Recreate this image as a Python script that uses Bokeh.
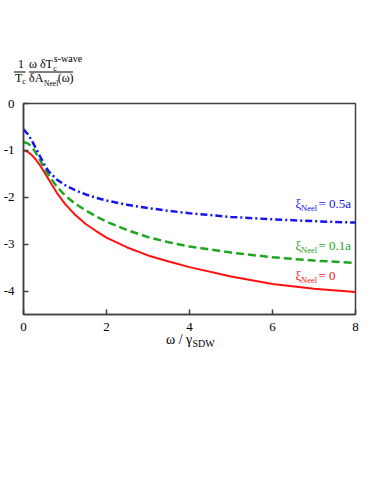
from bokeh.plotting import figure
from bokeh.layouts import column
from bokeh.models import Label, FixedTicker, Range1d
from bokeh.core.properties import value
from bokeh.embed import file_html
from bokeh.resources import INLINE

# ---- data ----
omega = [0, 0.1, 0.2, 0.3, 0.4, 0.5, 0.6, 0.8, 1.0, 1.25, 1.5, 1.75, 2, 2.5, 3, 3.5, 4, 5, 6, 7, 8]
xi_0 = [-1.00, -1.03, -1.10, -1.20, -1.32, -1.46, -1.61, -1.90, -2.14, -2.38, -2.57, -2.72,
        -2.86, -3.07, -3.24, -3.37, -3.49, -3.69, -3.85, -3.95, -4.02]
xi_01 = [-0.82, -0.85, -0.92, -1.06, -1.21, -1.37, -1.52, -1.77, -1.96, -2.14, -2.28, -2.41,
         -2.52, -2.70, -2.85, -2.96, -3.05, -3.18, -3.28, -3.35, -3.40]
xi_05 = [-0.55, -0.65, -0.79, -0.96, -1.13, -1.30, -1.44, -1.62, -1.74, -1.85, -1.94, -2.01,
         -2.07, -2.16, -2.23, -2.29, -2.34, -2.42, -2.47, -2.51, -2.54]
x_ticks = [0, 2, 4, 6, 8]
y_ticks = [0, -1, -2, -3, -4]
y_tick_labels = ["0", "-1", "-2", "-3", "-4"]
curve_labels = ["= 0.5a", "= 0.1a", "= 0"]

FONT = "Liberation Serif"
RED, GREEN, BLUE = "#ff1010", "#1fa51f", "#1414f0"
AXC = "#404040"
SHIFT = 0.42   # baseline correction, in em

# ---- layout (page pixels, page origin at 0) ----
W, HT, H = 366, 92, 370            # width, title strip height, total height
FL, FR, FT, FB = 23, 355, 103, 314  # frame edges on the page
X0, X1, Y0, Y1 = 0, 8, -4.5, 0

# ---------- title strip (y-axis quantity written as a fraction) ----------
t = figure(width=W, height=HT, output_backend="svg", toolbar_location=None,
           x_range=Range1d(0, W), y_range=Range1d(HT, 0),
           x_axis_type=None, y_axis_type=None,
           min_border_left=0, min_border_right=0, min_border_top=0, min_border_bottom=0)
t.frame_align = False
t.outline_line_color = None
t.grid.visible = False
t.background_fill_color = "white"
t.border_fill_color = "white"

tx = [17.5, 14.5, 21.8, 28.5, 52.8, 53.3, 28.5, 43.6, 57.2]
ty = [69, 82.3, 84.3, 69, 71.5, 62.5, 82.3, 86, 82.3]
tt = ["1", "T", "c", "ω δT", "c", "s-wave", "δA", "Neel", "(ω)"]
tsz = [12, 12, 8, 12, 8, 10, 12, 7.5, 12]
t.text(x=tx, y=[y - SHIFT * s for y, s in zip(ty, tsz)], text=tt,
       text_font_size=[f"{s}px" for s in tsz], text_font=value(FONT),
       text_color="black", text_baseline="alphabetic", text_align="left")
t.segment(x0=[13.5, 28.5], y0=[71.5, 71.5], x1=[25, 72.5], y1=[71.5, 71.5],
          line_color="black", line_width=1)

# ---------- main plot ----------
p = figure(width=W, height=H - HT, output_backend="svg", toolbar_location=None,
           x_range=Range1d(X0, X1), y_range=Range1d(Y0, Y1),
           min_border_left=FL, min_border_right=W - FR,
           min_border_top=FT - HT, min_border_bottom=H - FB)
p.frame_align = False
p.grid.visible = False
p.outline_line_color = AXC
p.outline_line_width = 1.5
p.background_fill_color = "white"
p.border_fill_color = "white"

for ax in (p.xaxis[0], p.yaxis[0]):
    ax.axis_line_color = AXC
    ax.axis_line_width = 1.5
    ax.major_tick_line_color = AXC
    ax.major_tick_line_width = 1.5
    ax.major_tick_in = 5
    ax.major_tick_out = 0
    ax.minor_tick_line_color = None
    ax.major_label_text_font = FONT
    ax.major_label_text_font_size = "13px"
    ax.major_label_text_color = "black"
p.xaxis.ticker = FixedTicker(ticks=x_ticks)
p.yaxis.ticker = FixedTicker(ticks=y_ticks)
p.yaxis.major_label_overrides = {t_: s for t_, s in zip(y_ticks, y_tick_labels)}
p.xaxis.major_label_standoff = 8
p.yaxis.major_label_standoff = 9

p.line(omega, xi_0, line_color=RED, line_width=2)
p.line(omega, xi_01, line_color=GREEN, line_width=2.5, line_dash="8 4")
p.line(omega, xi_05, line_color=BLUE, line_width=2.5, line_dash="7 3 2 3")


def dx(px):
    return X0 + (px - FL) * (X1 - X0) / (FR - FL)


def dy(py):
    return Y1 - (py - FT) * (Y1 - Y0) / (FB - FT)


def txt(s, px, py, size, color="black", place=None):
    lab = Label(x=dx(px), y=dy(py - SHIFT * size), text=s, text_font=FONT,
                text_font_size=f"{size}px", text_color=color,
                text_align="left", text_baseline="alphabetic")
    if place is None:
        p.add_layout(lab)
    else:
        p.add_layout(lab, place)


# x-axis title
txt("ω / γ", 165.5, 344.5, 14, place="below")
txt("SDW", 192, 347, 10, place="below")

# curve labels
for s, col, base in zip(curve_labels, (BLUE, GREEN, RED), (208.5, 250.5, 280.5)):
    txt("ξ", 295, base, 13, col)
    txt("Neel", 300.5, base + 3, 8.5, col)
    txt(s, 318, base, 13, col)

open("out.html", "w").write(file_html(column(t, p), INLINE))
